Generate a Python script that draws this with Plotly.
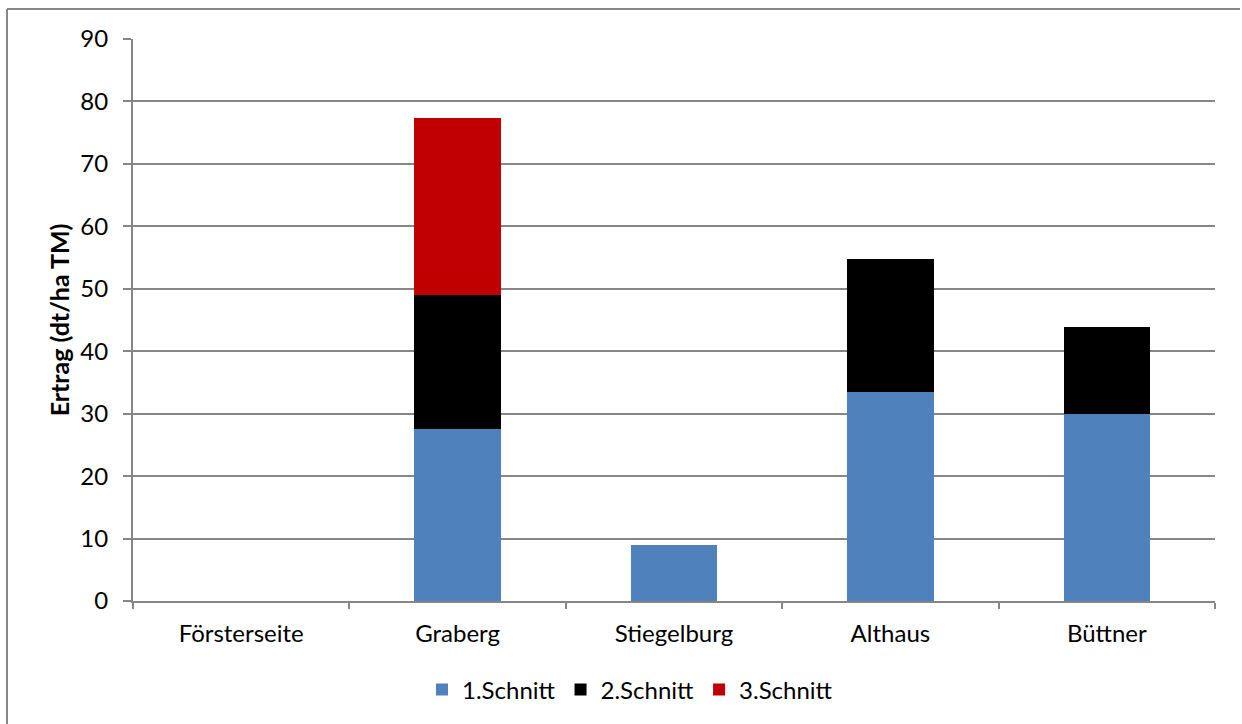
import plotly.graph_objects as go

categories = ["Försterseite", "Graberg", "Stiegelburg", "Althaus", "Büttner"]
schnitt1 = [0, 27.5, 8.9, 33.4, 30.0]
schnitt2 = [0, 21.5, 0, 21.3, 13.8]
schnitt3 = [0, 28.3, 0, 0, 0]
series_names = ["1.Schnitt", "2.Schnitt", "3.Schnitt"]
colors = ["#4F81BD", "#000000", "#C00000"]
y_ticks = [0, 10, 20, 30, 40, 50, 60, 70, 80, 90]

W, H = 1242, 724
L, R, T, B = 133, 27, 39, 123
pw = W - L - R
ph = H - T - B

fig = go.Figure()
for name, vals, col in zip(series_names, [schnitt1, schnitt2, schnitt3], colors):
    fig.add_trace(go.Bar(
        x=categories, y=vals, name=name,
        marker=dict(color=col, line=dict(width=0)),
    ))

font_family = "Lato, Open Sans, DejaVu Sans, sans-serif"

fig.update_layout(
    width=W, height=H,
    barmode="stack",
    bargap=0.6,
    plot_bgcolor="white",
    paper_bgcolor="white",
    margin=dict(l=L, r=R, t=T, b=B, autoexpand=False),
    font=dict(family=font_family, size=24, color="#000000"),
    showlegend=True,
    legend=dict(
        orientation="h", x=(630 - L) / pw, xanchor="center",
        y=-(690 - (T + ph)) / ph, yanchor="middle",
        font=dict(size=24), traceorder="normal",
        itemwidth=30,
    ),
    xaxis=dict(
        type="category",
        showline=True, linecolor="#868686", linewidth=2,
        ticks="outside", tickson="boundaries", ticklen=6, tickcolor="#868686", tickwidth=2,
        showgrid=False,
        tickfont=dict(size=24),
        ticklabelstandoff=10,
        mirror=False,
    ),
    yaxis=dict(
        range=[0, 90],
        tickvals=y_ticks,
        showline=True, linecolor="#868686", linewidth=2,
        ticks="outside", ticklen=8, tickcolor="#868686", tickwidth=2,
        showgrid=True, gridcolor="#868686", gridwidth=2,
        zeroline=False,
        tickfont=dict(size=24),
        ticklabelstandoff=10,
        title=dict(text="<b>Ertrag (dt/ha TM)</b>", font=dict(size=25), standoff=4),
    ),
)

# outer chart border (only left and top edges visible)
bx0 = (7 - L) / pw
by1 = 1 + (T - 9) / ph
fig.add_shape(type="line", xref="paper", yref="paper",
              x0=bx0, x1=bx0, y0=-0.3, y1=by1,
              line=dict(color="#868686", width=2), layer="below")
fig.add_shape(type="line", xref="paper", yref="paper",
              x0=bx0, x1=(W - L - 2) / pw, y0=by1, y1=by1,
              line=dict(color="#868686", width=2), layer="below")

fig.write_html("out.html")
